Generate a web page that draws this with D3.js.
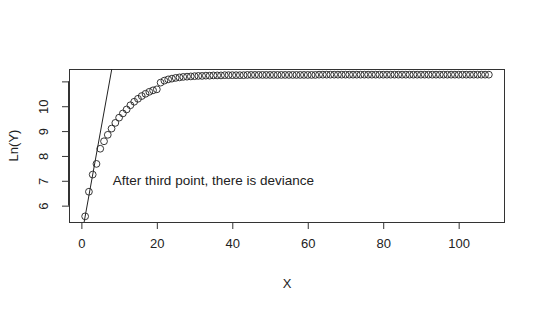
<!DOCTYPE html>
<html>
<head>
<meta charset="utf-8">
<script src="https://cdn.jsdelivr.net/npm/d3@7"></script>
<style>
  body { margin: 0; background: #fff; }
  text { font-family: "Liberation Sans", Arial, sans-serif; fill: #222; }
</style>
</head>
<body>
<div id="chart"></div>
<script>
// Ln(Y) for X = 1 .. 108
var lnY = [
  5.57, 6.56, 7.25, 7.68, 8.29, 8.59, 8.85, 9.10, 9.33, 9.54,
  9.71, 9.87, 10.04, 10.18, 10.30, 10.41, 10.50, 10.58, 10.64, 10.68,
  10.95, 11.03, 11.08, 11.11, 11.14, 11.16, 11.18, 11.19, 11.20, 11.21,
  11.22, 11.22, 11.23, 11.23, 11.24, 11.24, 11.24, 11.25, 11.25, 11.25,
  11.25, 11.25, 11.25, 11.26, 11.26, 11.26, 11.26, 11.26, 11.26, 11.26,
  11.26, 11.26, 11.26, 11.26, 11.26, 11.26, 11.26, 11.26, 11.26, 11.26,
  11.26, 11.26, 11.27, 11.27, 11.27, 11.27, 11.27, 11.27, 11.27, 11.27,
  11.27, 11.27, 11.27, 11.27, 11.27, 11.27, 11.27, 11.27, 11.27, 11.27,
  11.27, 11.27, 11.27, 11.27, 11.27, 11.27, 11.27, 11.27, 11.27, 11.27,
  11.27, 11.27, 11.27, 11.27, 11.27, 11.27, 11.27, 11.27, 11.27, 11.27,
  11.27, 11.27, 11.27, 11.27, 11.27, 11.27, 11.27, 11.27
];
var xTicks = [0, 20, 40, 60, 80, 100];
var yTicks = [6, 7, 8, 9, 10, 11];
var yTickLabels = ["6", "7", "8", "9", "10", ""];
// straight line through the first and third points
var lineIntercept = 4.725;
var lineSlope = 0.84;
var note = {x: 35, y: 7.02, text: "After third point, there is deviance"};

var width = 540, height = 309;
var box = {left: 69, right: 505, top: 69, bottom: 222};

var data = lnY.map(function(v, i) { return {x: i + 1, y: v}; });

// R style 4% padding of the data range
var xExt = d3.extent(data, d => d.x), yExt = d3.extent(data, d => d.y);
var xPad = (xExt[1] - xExt[0]) * 0.04, yPad = (yExt[1] - yExt[0]) * 0.04;

var x = d3.scaleLinear().domain([xExt[0] - xPad, xExt[1] + xPad]).range([box.left, box.right]);
var y = d3.scaleLinear().domain([yExt[0] - yPad, yExt[1] + yPad]).range([box.bottom, box.top]);

var svg = d3.select("#chart").append("svg")
    .attr("width", width)
    .attr("height", height);

svg.append("clipPath").attr("id", "clip")
  .append("rect")
    .attr("x", box.left).attr("y", box.top)
    .attr("width", box.right - box.left).attr("height", box.bottom - box.top);

// x axis
var xAxis = svg.append("g")
    .attr("transform", "translate(0," + box.bottom + ")")
    .call(d3.axisBottom(x).tickValues(xTicks).tickSize(7).tickPadding(10).tickSizeOuter(0));
xAxis.select(".domain").attr("d", "M" + x(xTicks[0]) + ",0.5H" + x(xTicks[xTicks.length - 1]));

// y axis, labels rotated like R
var yAxis = svg.append("g")
    .attr("transform", "translate(" + box.left + ",0)")
    .call(d3.axisLeft(y).tickValues(yTicks).tickSize(7).tickFormat((d, i) => yTickLabels[i]).tickSizeOuter(0));
yAxis.select(".domain").attr("d", "M-0.5," + y(yTicks[0]) + "V" + y(yTicks[yTicks.length - 1]));
yAxis.selectAll(".tick text")
    .attr("x", 0).attr("y", 0).attr("dy", "0.35em")
    .attr("text-anchor", "middle")
    .attr("transform", "translate(-26,0) rotate(-90)");

svg.selectAll(".domain, .tick line").attr("stroke", "#333");
svg.selectAll(".tick text").attr("font-size", 13).attr("font-family", null).style("fill", "#222");

// box
svg.append("rect")
    .attr("x", box.left + 0.5).attr("y", box.top + 0.5)
    .attr("width", box.right - box.left - 1).attr("height", box.bottom - box.top)
    .attr("fill", "none").attr("stroke", "#333");

var plot = svg.append("g").attr("clip-path", "url(#clip)");

// abline
var xd = x.domain();
plot.append("line")
    .attr("x1", x(xd[0])).attr("y1", y(lineIntercept + lineSlope * xd[0]))
    .attr("x2", x(xd[1])).attr("y2", y(lineIntercept + lineSlope * xd[1]))
    .attr("stroke", "#222").attr("stroke-width", 1);

// points
svg.append("g").selectAll("circle")
  .data(data)
  .join("circle")
    .attr("cx", d => x(d.x))
    .attr("cy", d => y(d.y))
    .attr("r", 3.4)
    .attr("fill", "none")
    .attr("stroke", "#222")
    .attr("stroke-width", 0.9);

// note
svg.append("text")
    .attr("x", x(note.x)).attr("y", y(note.y))
    .attr("dy", "0.35em")
    .attr("text-anchor", "middle")
    .attr("font-size", 13.5)
    .text(note.text);

// axis titles
svg.append("text")
    .attr("x", (box.left + box.right) / 2).attr("y", 283)
    .attr("dy", "0.35em")
    .attr("text-anchor", "middle")
    .attr("font-size", 13)
    .text("X");

svg.append("text")
    .attr("transform", "translate(13," + ((box.top + box.bottom) / 2) + ") rotate(-90)")
    .attr("dy", "0.35em")
    .attr("text-anchor", "middle")
    .attr("font-size", 13)
    .text("Ln(Y)");
</script>
</body>
</html>
